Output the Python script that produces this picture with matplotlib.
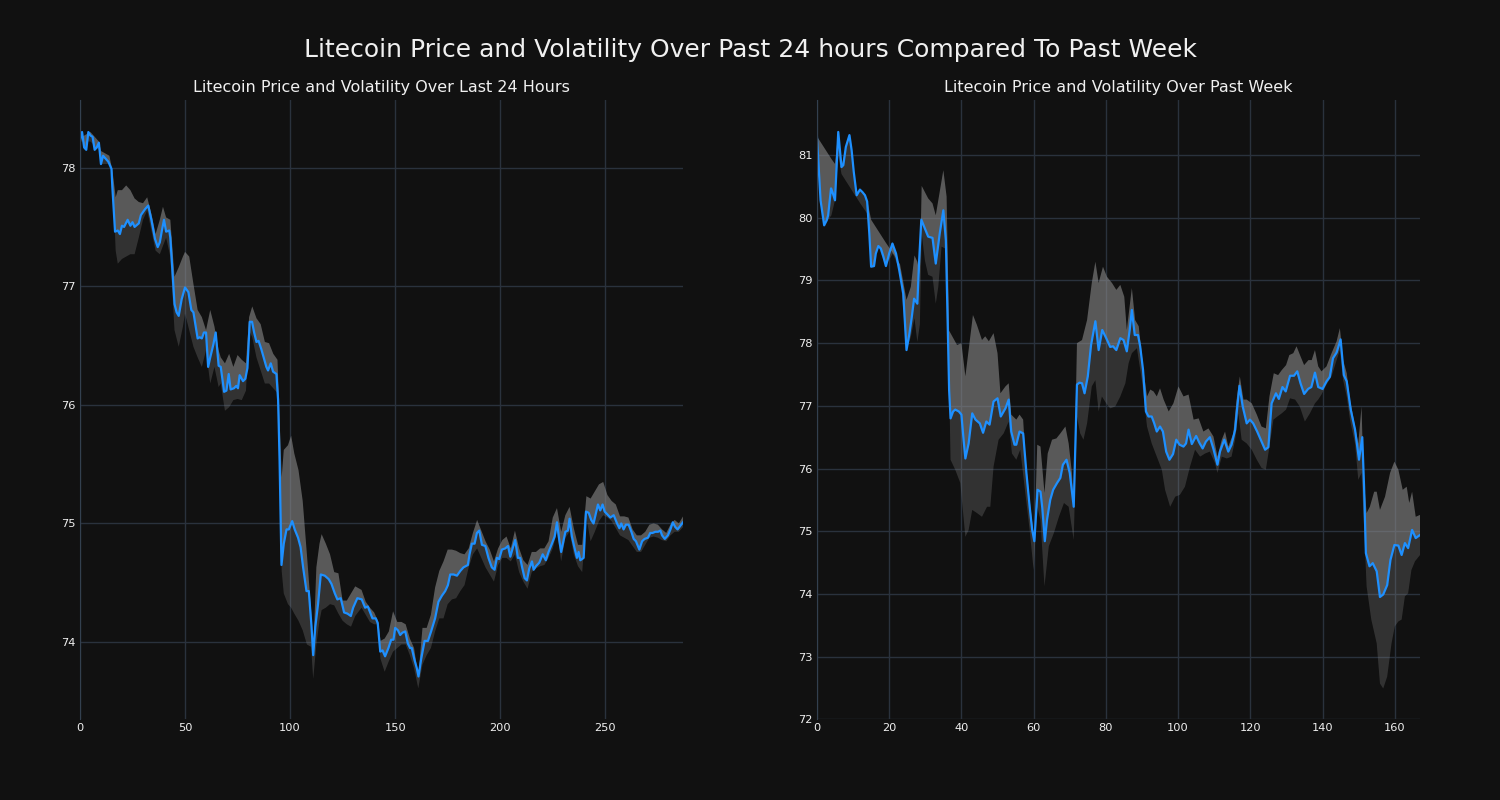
import numpy as np
import matplotlib
matplotlib.use("Agg")
import matplotlib.pyplot as plt

# ---- last 24 hours (5 min steps) ----
day_x = [0, 1, 2, 3, 4, 5, 6, 7, 8, 9, 10, 11, 12, 13.5, 15, 15.4, 16.7, 18, 19, 20, 21, 22.7, 24, 25, 26, 28,
         29, 31, 32.5, 34, 35.7, 37, 38, 39, 40, 41, 42.5, 43, 45, 46, 47, 48.4, 50, 51.6, 53, 54, 55, 56, 57,
         58, 59, 60, 61, 62, 63.5, 64.6, 66, 67, 68.6, 69.7, 70.8, 71.7, 73.3, 74.4, 75.2, 76, 77.6, 78.7, 79.7,
         80.8, 81.9, 82.9, 84, 85, 86.3, 87.6, 88.7, 89.5, 90.8, 91.9, 93.5, 94.3, 95, 95.9, 97, 98.3, 99.4,
         101, 102.2, 103.8, 105, 106.2, 107.8, 108.9, 110.2, 111, 112, 113.3, 114.6, 116.5, 118.4, 119.7,
         121.3, 122.5, 124.1, 125.7, 127.3, 128.9, 130, 132, 134.1, 135.7, 137, 138.1, 139.2, 140.8, 141.7,
         142.9, 144, 145.2, 146.8, 148.1, 149.2, 150, 151.3, 152.4, 153.5, 154.8, 156, 157.1, 157.9, 159.2,
         160.3, 161.1, 162.4, 164, 165.6, 167.1, 169, 170.6, 172.2, 173.8, 175.1, 176.2, 177.8, 179.4, 181,
         182.5, 184.6, 185.4, 186.5, 187.8, 188.9, 190, 191.3, 192.9, 194.4, 196, 197.3, 198.4, 199.5, 200.8,
         202.4, 203.7, 204.8, 205.9, 207.1, 208.4, 209.5, 210.3, 211.6, 212.7, 213.8, 215.1, 215.9, 217,
         218.6, 220.2, 221.7, 223, 224.6, 225.9, 227, 228.1, 229, 230.2, 231, 232.2, 233, 234.1, 235.4, 236.5,
         237.3, 238.1, 239.7, 240.8, 242.1, 243.3, 244.4, 245.6, 246.5, 247.6, 248.7, 249.7, 250.8, 252.4,
         254, 255.6, 256.7, 257.6, 258.7, 259.8, 261.1, 262.4, 263.5, 264.6, 266.2, 267.5, 268.7, 270.3,
         271.4, 272.5, 273.8, 275.1, 276.2, 277, 278.3, 279.8, 281, 282.1, 283.3, 284.4, 285.7, 287]
day_price = [78.23, 78.30, 78.17, 78.15, 78.30, 78.27, 78.26, 78.15, 78.17, 78.21, 78.03, 78.10, 78.08, 78.05,
             77.99, 77.84, 77.46, 77.47, 77.44, 77.51, 77.50, 77.56, 77.51, 77.54, 77.50, 77.53, 77.60, 77.65,
             77.68, 77.56, 77.40, 77.33, 77.37, 77.47, 77.56, 77.46, 77.47, 77.41, 76.85, 76.78, 76.75, 76.89,
             76.99, 76.95, 76.80, 76.78, 76.67, 76.56, 76.57, 76.56, 76.61, 76.61, 76.32, 76.40, 76.51, 76.61,
             76.33, 76.32, 76.11, 76.12, 76.26, 76.13, 76.14, 76.16, 76.14, 76.25, 76.20, 76.22, 76.31, 76.70,
             76.70, 76.61, 76.53, 76.54, 76.47, 76.39, 76.32, 76.29, 76.35, 76.28, 76.26, 76.04, 75.53, 74.65,
             74.83, 74.95, 74.95, 75.02, 74.95, 74.88, 74.80, 74.63, 74.43, 74.43, 74.13, 73.89, 74.13, 74.32,
             74.57, 74.56, 74.53, 74.49, 74.41, 74.36, 74.37, 74.25, 74.24, 74.22, 74.29, 74.37, 74.36, 74.29,
             74.30, 74.25, 74.20, 74.20, 74.16, 73.92, 73.93, 73.88, 73.95, 74.02, 74.02, 74.12, 74.10, 74.06,
             74.08, 74.09, 73.99, 73.95, 73.95, 73.85, 73.78, 73.71, 73.86, 74.01, 74.01, 74.09, 74.20, 74.34,
             74.39, 74.43, 74.48, 74.57, 74.57, 74.56, 74.60, 74.63, 74.65, 74.74, 74.83, 74.83, 74.92, 74.94,
             74.82, 74.81, 74.71, 74.63, 74.61, 74.71, 74.70, 74.78, 74.79, 74.81, 74.72, 74.79, 74.86, 74.71,
             74.71, 74.64, 74.54, 74.52, 74.62, 74.68, 74.61, 74.64, 74.67, 74.74, 74.69, 74.76, 74.83, 74.89,
             75.01, 74.86, 74.76, 74.86, 74.93, 74.94, 75.04, 74.89, 74.79, 74.71, 74.76, 74.69, 74.71, 75.10,
             75.09, 75.03, 75.00, 75.09, 75.16, 75.11, 75.16, 75.10, 75.08, 75.05, 75.07, 75.00, 74.96, 75.00,
             74.95, 74.99, 74.99, 74.93, 74.87, 74.85, 74.78, 74.85, 74.87, 74.88, 74.92, 74.92, 74.93, 74.93,
             74.94, 74.90, 74.87, 74.90, 74.95, 75.01, 74.97, 74.95, 74.98, 75.01]

day_up_x = [0, 5, 9, 10, 14, 15.5, 17, 18, 20, 22, 24, 26, 28, 30, 32, 34, 36, 38, 39.5, 41, 43, 45, 47, 49, 50,
            52, 54, 56, 58, 60, 62, 64, 66, 67, 69, 71, 73, 75, 77, 79, 80.5, 82, 84, 86, 88, 90, 92, 94, 96, 97,
            99, 100.5, 102, 104, 106, 108, 110, 111, 112.5, 114, 115, 117, 119, 121, 123, 125, 127, 129, 131,
            134, 136, 138, 140, 142, 143, 145, 147, 149, 151, 153, 155, 157, 159, 161, 163, 165, 167, 169, 171,
            173, 175, 177, 179, 181, 183, 185, 187, 189, 191, 193, 195, 197, 199, 201, 203, 205, 207, 209, 211,
            213, 215, 217, 219, 221, 223, 225, 227, 229, 231, 233, 235, 237, 239, 241, 243, 245, 247, 249, 251,
            253, 255, 257, 259, 261, 263, 265, 267, 269, 271, 273, 275, 277, 279, 281, 283, 285, 287]
day_upper = [78.25, 78.30, 78.22, 78.14, 78.10, 77.97, 77.75, 77.81, 77.81, 77.85, 77.81, 77.74, 77.71, 77.70,
             77.75, 77.61, 77.44, 77.56, 77.67, 77.58, 77.56, 77.08, 77.16, 77.25, 77.29, 77.25, 77.02, 76.80,
             76.74, 76.63, 76.80, 76.66, 76.46, 76.40, 76.35, 76.43, 76.32, 76.42, 76.38, 76.35, 76.74, 76.83,
             76.73, 76.68, 76.53, 76.52, 76.43, 76.38, 75.39, 75.62, 75.66, 75.74, 75.59, 75.45, 75.19, 74.74,
             74.27, 73.90, 74.63, 74.83, 74.91, 74.83, 74.74, 74.59, 74.58, 74.35, 74.35, 74.41, 74.47, 74.44,
             74.34, 74.29, 74.25, 74.17, 74.01, 74.03, 74.09, 74.26, 74.17, 74.17, 74.15, 74.03, 73.95, 73.71,
             74.12, 74.12, 74.23, 74.46, 74.60, 74.68, 74.78, 74.78, 74.77, 74.75, 74.74, 74.79, 74.92, 75.03,
             74.94, 74.85, 74.78, 74.68, 74.79, 74.86, 74.89, 74.79, 74.94, 74.79, 74.69, 74.65, 74.76, 74.76,
             74.79, 74.79, 74.85, 75.05, 75.13, 74.93, 75.07, 75.14, 74.96, 74.82, 74.82, 75.23, 75.21, 75.27,
             75.33, 75.35, 75.24, 75.19, 75.16, 75.06, 75.06, 75.05, 74.95, 74.90, 74.90, 74.93, 74.99, 75.00,
             74.99, 74.95, 74.92, 74.99, 75.03, 75.00, 75.06]

day_lo_x = [0, 5, 9, 10, 14, 15.5, 17, 18, 20, 22, 24, 26, 28, 30, 32, 34, 36, 38, 41, 43, 45, 47, 49, 50, 52,
            54, 56, 58, 60, 62, 64, 66, 67, 69, 71, 73, 75, 77, 79, 80.5, 82, 84, 86, 88, 90, 92, 94, 96, 97, 99,
            100.5, 102, 104, 106, 108, 110, 111, 112.5, 114, 115, 117, 119, 121, 123, 125, 127, 129, 131, 134,
            136, 138, 140, 142, 143, 145, 147, 149, 151, 153, 155, 157, 159, 161, 163, 165, 167, 169, 171, 173,
            175, 177, 179, 181, 183, 185, 187, 189, 191, 193, 195, 197, 199, 201, 203, 205, 207, 209, 211, 213,
            215, 217, 219, 221, 223, 225, 227, 229, 231, 233, 235, 237, 239, 241, 243, 245, 247, 249, 251, 253,
            255, 257, 259, 261, 263, 265, 267, 269, 271, 273, 275, 277, 279, 281, 283, 285, 287]
day_lower = [78.22, 78.22, 78.15, 78.03, 78.03, 77.95, 77.30, 77.19, 77.23, 77.25, 77.27, 77.27, 77.41, 77.56,
             77.64, 77.47, 77.30, 77.27, 77.41, 77.25, 76.63, 76.49, 76.66, 76.77, 76.63, 76.49, 76.40, 76.32,
             76.46, 76.18, 76.32, 76.15, 76.18, 75.95, 75.98, 76.04, 76.05, 76.04, 76.12, 76.63, 76.57, 76.40,
             76.29, 76.18, 76.18, 76.14, 76.10, 74.60, 74.41, 74.32, 74.29, 74.24, 74.18, 74.10, 73.98, 73.96,
             73.69, 73.98, 74.18, 74.27, 74.29, 74.32, 74.31, 74.24, 74.18, 74.15, 74.13, 74.22, 74.29, 74.23,
             74.17, 74.15, 74.15, 73.86, 73.75, 73.84, 73.92, 73.95, 73.98, 73.98, 73.89, 73.78, 73.61, 73.81,
             73.89, 73.95, 74.09, 74.20, 74.20, 74.32, 74.36, 74.37, 74.43, 74.48, 74.63, 74.74, 74.79, 74.71,
             74.63, 74.57, 74.51, 74.65, 74.71, 74.71, 74.68, 74.74, 74.59, 74.51, 74.45, 74.59, 74.62, 74.64,
             74.65, 74.71, 74.79, 74.93, 74.68, 74.88, 74.93, 74.74, 74.64, 74.59, 75.05, 74.85, 74.93, 75.02,
             75.07, 75.05, 75.02, 74.96, 74.90, 74.88, 74.86, 74.81, 74.76, 74.76, 74.82, 74.88, 74.89, 74.88,
             74.86, 74.85, 74.90, 74.93, 74.93, 74.97]

# ---- past week (hourly) ----
week_x = [0, 1, 2, 2.7, 3.1, 3.9, 4.3, 5, 5.9, 6.8, 7.3, 8, 9, 9.6, 10.2, 11, 11.9, 12.6, 13.3, 13.9, 14.5, 15,
          15.8, 16.3, 17, 17.7, 18.4, 19.1, 20, 20.9, 21.9, 22.8, 23.9, 24.8, 25.6, 26.2, 26.9, 27.8, 28.3, 28.9,
          29.9, 30.8, 32, 32.9, 34, 35, 35.7, 36.6, 37, 37.7, 38.3, 39.3, 40, 40.6, 41.1, 42, 43, 43.9, 45.1, 46,
          46.9, 47.8, 48.9, 50, 50.9, 52.2, 53.1, 53.8, 54.7, 55.2, 56.1, 57.1, 58, 58.9, 59.6, 60.2, 61.1, 61.9,
          62.4, 63.1, 63.7, 64.6, 65.4, 66.5, 67.4, 68.1, 69.1, 70, 70.6, 71.1, 72, 72.7, 73.4, 74.1, 75, 75.9,
          77.1, 78, 79, 80.1, 81.2, 82, 82.9, 84, 84.9, 85.8, 86.6, 87.2, 88, 88.9, 89.5, 90.3, 91.1, 91.8, 92.7,
          93.4, 94.1, 95, 95.8, 96.7, 97.6, 98.6, 99.5, 100.4, 101.5, 102.2, 102.9, 103.8, 105, 105.9, 106.8,
          107.7, 108.8, 109.8, 110.9, 111.6, 112.8, 113.9, 114.8, 115.8, 116.4, 117, 117.9, 119, 119.9, 120.8,
          121.9, 123.1, 124.1, 125, 125.9, 127.1, 127.9, 128.9, 129.8, 131, 132.1, 133, 133.9, 134.9, 136,
          136.9, 137.9, 138.8, 140, 141.1, 142, 142.9, 143.9, 145, 145.9, 146.7, 147.8, 149, 150.1, 151, 151.5,
          152, 153, 153.9, 155, 155.9, 156.8, 157.9, 158.8, 159.9, 161, 161.9, 162.8, 163.7, 164.8, 165.8, 167]
week_price = [81.29, 80.28, 79.88, 79.96, 80.04, 80.47, 80.41, 80.28, 81.37, 80.81, 80.84, 81.13, 81.32, 81.08,
              80.73, 80.36, 80.45, 80.41, 80.36, 80.26, 79.75, 79.22, 79.23, 79.43, 79.55, 79.51, 79.38, 79.23,
              79.43, 79.59, 79.43, 79.16, 78.79, 77.89, 78.15, 78.39, 78.71, 78.63, 79.32, 79.97, 79.83, 79.70,
              79.68, 79.27, 79.75, 80.12, 79.64, 77.25, 76.80, 76.91, 76.94, 76.91, 76.86, 76.46, 76.16, 76.40,
              76.88, 76.78, 76.72, 76.57, 76.75, 76.70, 77.07, 77.12, 76.83, 76.96, 77.10, 76.59, 76.38, 76.38,
              76.59, 76.56, 75.93, 75.39, 75.02, 74.84, 75.66, 75.63, 75.37, 74.84, 75.18, 75.50, 75.66, 75.77,
              75.85, 76.06, 76.14, 75.93, 75.63, 75.39, 77.34, 77.37, 77.36, 77.20, 77.47, 77.97, 78.35, 77.89,
              78.21, 78.08, 77.94, 77.95, 77.89, 78.08, 78.05, 77.87, 78.21, 78.53, 78.13, 78.13, 77.95, 77.57,
              76.91, 76.83, 76.83, 76.72, 76.59, 76.67, 76.59, 76.27, 76.14, 76.23, 76.46, 76.38, 76.35, 76.40,
              76.62, 76.39, 76.52, 76.41, 76.32, 76.43, 76.50, 76.31, 76.06, 76.27, 76.46, 76.27, 76.38, 76.62,
              76.99, 77.32, 76.99, 76.72, 76.78, 76.72, 76.59, 76.43, 76.30, 76.34, 77.04, 77.20, 77.11, 77.30,
              77.23, 77.48, 77.48, 77.55, 77.36, 77.19, 77.27, 77.30, 77.53, 77.30, 77.27, 77.39, 77.46, 77.76,
              77.85, 78.06, 77.49, 77.39, 76.94, 76.62, 76.14, 76.50, 75.71, 74.65, 74.44, 74.49, 74.36, 73.95,
              73.99, 74.14, 74.54, 74.78, 74.77, 74.62, 74.81, 74.73, 75.02, 74.89, 74.94]

week_up_x = [0, 1, 2, 3, 4, 5, 5.9, 6.8, 8, 9, 10.2, 11, 12, 13.3, 14, 15, 17, 19, 21, 23, 24.8, 26, 27, 27.8,
             28.5, 29, 29.9, 30.8, 32, 32.9, 33.6, 35, 35.9, 36.6, 38.8, 40, 41.1, 42, 43.2, 44.3, 45.7, 46.6,
             47.6, 48.9, 50, 50.8, 52.2, 53.1, 53.8, 55.2, 56.1, 57.1, 57.7, 58.9, 60.2, 61, 61.9, 63, 63.9, 65.1,
             66.3, 67.4, 68.8, 69.7, 70.6, 71.1, 72, 73.4, 74.8, 76.1, 77.1, 78, 79.2, 80.3, 81.7, 82.9, 84, 85.1,
             85.8, 87.2, 88.1, 89.1, 90.4, 91.4, 92.3, 93.2, 94.1, 95, 96, 97.4, 98.7, 100.1, 101.5, 102.9, 104.3,
             105.7, 107, 108.4, 109.8, 110.9, 112.1, 113, 113.9, 115.3, 116.2, 117.1, 118.1, 119, 120.4, 121.8,
             123.1, 124.3, 125.3, 126.5, 127.7, 128.7, 129.9, 130.8, 131.9, 132.8, 133.9, 134.9, 136.1, 137,
             137.9, 138.8, 139.7, 141.1, 142.5, 143.9, 144.8, 145.7, 146.7, 147.6, 149, 149.9, 150.8, 151.3,
             152.2, 153.1, 154.3, 155, 155.9, 157.3, 158.7, 159.9, 161, 162.2, 163.3, 164, 164.8, 165.8, 167]
week_upper = [81.30, 81.21, 81.12, 81.03, 80.94, 80.86, 81.37, 80.81, 81.13, 81.32, 80.73, 80.36, 80.45, 80.36,
              80.26, 79.97, 79.79, 79.61, 79.44, 79.26, 78.69, 78.90, 79.40, 79.30, 79.10, 80.51, 80.41, 80.31,
              80.23, 80.04, 80.28, 80.76, 80.34, 78.20, 77.97, 78.00, 77.47, 77.89, 78.45, 78.29, 78.05, 78.11,
              78.03, 78.16, 77.84, 77.20, 77.31, 77.36, 76.86, 76.78, 76.86, 76.78, 76.19, 75.50, 74.84, 76.38,
              76.35, 75.61, 76.24, 76.46, 76.48, 76.56, 76.67, 76.40, 75.93, 75.39, 78.00, 78.05, 78.37, 78.96,
              79.30, 78.96, 79.22, 79.06, 78.96, 78.85, 78.93, 78.74, 78.21, 78.88, 78.37, 78.27, 77.57, 77.15,
              77.26, 77.23, 77.15, 77.28, 77.10, 76.91, 77.04, 77.31, 77.15, 77.18, 76.78, 76.80, 76.59, 76.64,
              76.51, 76.19, 76.46, 76.59, 76.35, 76.56, 77.10, 77.47, 77.10, 77.10, 77.04, 76.86, 76.67, 76.64,
              77.15, 77.52, 77.49, 77.57, 77.65, 77.81, 77.84, 77.95, 77.79, 77.65, 77.73, 77.73, 77.89, 77.63,
              77.55, 77.63, 77.84, 78.03, 78.24, 77.73, 77.52, 77.10, 76.67, 76.40, 76.99, 75.93, 75.29, 75.39,
              75.63, 75.63, 75.34, 75.55, 75.93, 76.11, 75.98, 75.66, 75.71, 75.45, 75.63, 75.23, 75.26]

week_lo_x = [0, 1, 2, 3, 4, 5, 5.9, 6.8, 8, 9, 10.2, 11, 12, 13.3, 14, 15, 17, 19, 21, 23, 24.8, 26, 27, 27.8,
             28.5, 29, 29.9, 30.8, 32, 32.9, 33.6, 34.5, 35.9, 37, 38.3, 39.7, 41.1, 42, 43, 44.3, 45.7, 47.1, 48,
             48.9, 50.3, 51.7, 53.1, 54, 55.2, 56.3, 57.7, 58.9, 60, 61, 61.9, 63, 64.2, 65.6, 67, 68.4, 69.7,
             71.1, 72, 72.9, 73.8, 74.8, 76.1, 77.1, 78, 78.9, 80.1, 81.2, 82.6, 84, 85.4, 86.3, 87.2, 88.6, 90,
             91.4, 92.7, 94.1, 95.5, 96.4, 97.8, 99.2, 100.5, 101.9, 103.3, 104.7, 106.1, 107.5, 108.8, 110.2,
             110.9, 112.1, 113.5, 114.8, 115.8, 116.7, 117.6, 119, 120.4, 121.8, 123.1, 124.3, 125.3, 126.4,
             127.5, 128.7, 129.9, 131, 132.4, 133.7, 135.1, 136.5, 137.9, 138.8, 139.7, 141.1, 142.5, 143.9,
             144.8, 145.7, 146.7, 147.6, 149, 149.9, 150.8, 151.5, 152.2, 153.5, 155, 155.9, 156.8, 157.9, 159.1,
             160, 161, 161.9, 162.8, 163.7, 164.6, 165.6, 167]
week_lower = [81.29, 80.28, 79.88, 79.96, 80.04, 80.28, 81.0, 80.70, 80.59, 80.50, 80.39, 80.32, 80.23, 80.12,
              80.06, 79.22, 79.55, 79.23, 79.43, 79.16, 77.89, 78.10, 78.40, 78.02, 78.30, 79.75, 79.32, 79.09,
              79.06, 78.63, 78.90, 79.54, 79.50, 76.14, 75.98, 75.77, 74.91, 75.02, 75.34, 75.29, 75.23, 75.39,
              75.39, 76.03, 76.46, 76.56, 76.75, 76.24, 76.14, 76.30, 75.61, 75.02, 74.38, 75.39, 75.18, 74.12,
              74.76, 74.97, 75.23, 75.45, 75.39, 74.86, 76.83, 76.56, 76.46, 76.72, 77.31, 77.41, 76.91, 77.15,
              77.04, 76.96, 76.99, 77.15, 77.36, 77.68, 77.84, 77.92, 77.40, 76.67, 76.40, 76.19, 75.98, 75.66,
              75.39, 75.55, 75.58, 75.71, 76.03, 76.30, 76.19, 76.24, 76.27, 76.09, 75.93, 76.19, 76.16, 76.19,
              76.46, 76.88, 76.46, 76.40, 76.30, 76.14, 76.01, 75.98, 76.35, 76.78, 76.83, 76.88, 76.94, 77.12,
              77.10, 76.99, 76.75, 76.88, 77.04, 77.10, 77.18, 77.34, 77.47, 77.73, 77.89, 77.41, 77.15, 76.78,
              76.40, 75.82, 75.93, 75.07, 74.12, 73.59, 73.21, 72.57, 72.49, 72.68, 73.21, 73.48, 73.56, 73.59,
              73.96, 74.01, 74.38, 74.52, 74.62]

BG = "#111111"
GRID = "#2a323d"
TXT = "#f0f0f0"

fig, axes = plt.subplots(1, 2, figsize=(15, 8), dpi=100, facecolor=BG)
fig.subplots_adjust(left=0.0533, right=0.9467, bottom=0.101, top=0.875, wspace=0.222)

panels = [
    (axes[0], day_x, day_price, day_up_x, day_upper, day_lo_x, day_lower,
     "Litecoin Price and Volatility Over Last 24 Hours", (0, 287), (73.35, 78.57),
     [0, 50, 100, 150, 200, 250], [74, 75, 76, 77, 78]),
    (axes[1], week_x, week_price, week_up_x, week_upper, week_lo_x, week_lower,
     "Litecoin Price and Volatility Over Past Week", (0, 167), (72.0, 81.88),
     [0, 20, 40, 60, 80, 100, 120, 140, 160], list(range(72, 82))),
]

for ax, x, y, ux, uy, lx, ly, title, xl, yl, xt, yt in panels:
    ax.set_facecolor(BG)
    ax.set_axisbelow(True)
    ax.grid(True, color=GRID, linewidth=1)
    # upper half of the band (light), lower half (dark)
    ax.fill(np.concatenate([x, ux[::-1]]), np.concatenate([y, uy[::-1]]),
            color="#8a8a8a", alpha=0.6, linewidth=0)
    ax.fill(np.concatenate([x, lx[::-1]]), np.concatenate([y, ly[::-1]]),
            color="#8a8a8a", alpha=0.28, linewidth=0)
    ax.plot(x, y, color="#1e90ff", linewidth=1.6)
    ax.set_xlim(*xl)
    ax.set_ylim(*yl)
    ax.set_xticks(xt)
    ax.set_yticks(yt)
    ax.set_title(title, color=TXT, fontsize=11.5, pad=6)
    ax.tick_params(colors=TXT, labelsize=8.2, length=0, pad=3)
    for side in ["top", "right", "bottom"]:
        ax.spines[side].set_visible(False)
    ax.spines["left"].set_color("#33404f")

fig.suptitle("Litecoin Price and Volatility Over Past 24 hours Compared To Past Week",
             color=TXT, fontsize=18, y=0.953)

fig.savefig("out.png", facecolor=BG)
